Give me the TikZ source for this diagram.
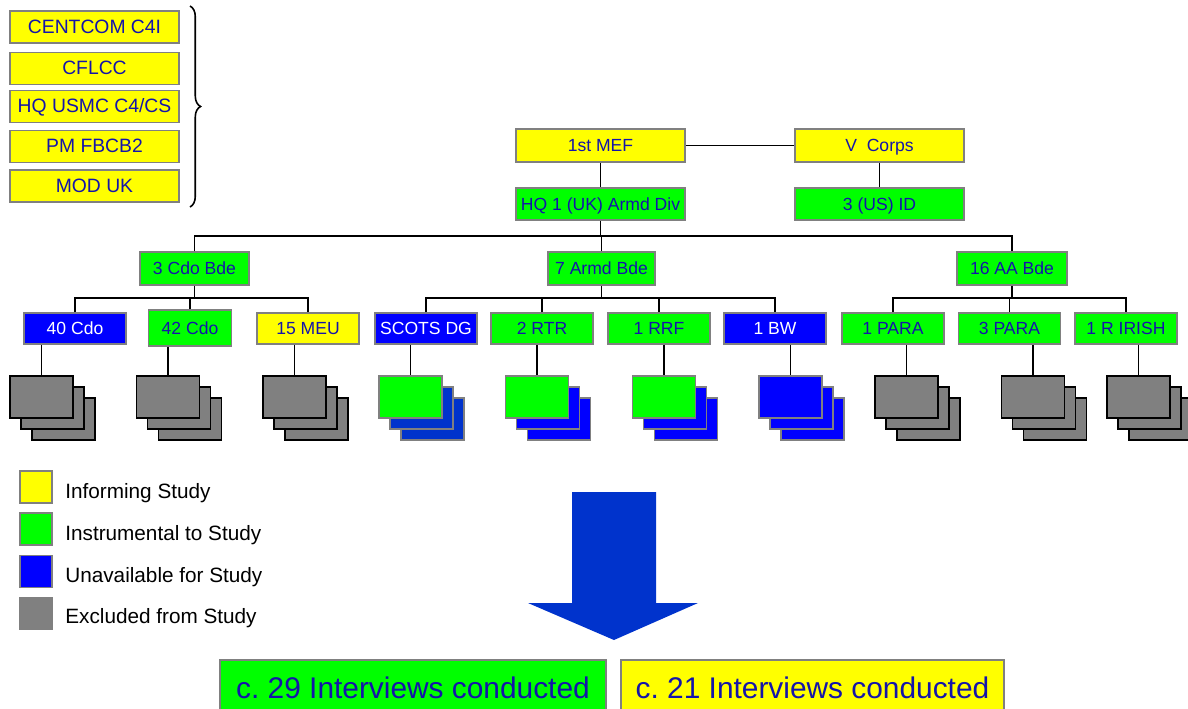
\documentclass[tikz,border=0pt]{standalone}
\usepackage{fontspec}
\setmainfont{Liberation Sans}
\usetikzlibrary{decorations.pathreplacing}
\frenchspacing

\definecolor{boxyellow}{RGB}{255,255,0}
\definecolor{boxgreen}{RGB}{0,255,0}
\definecolor{boxblue}{RGB}{0,0,255}
\definecolor{deepblue}{RGB}{0,51,204}
\definecolor{boxgray}{RGB}{128,128,128}
\definecolor{labelblue}{RGB}{20,20,170}

\tikzset{
    unit/.style={draw=boxgray, line width=0.9pt, minimum width=2.04cm, minimum height=0.62cm,
        inner sep=0pt, text height=1.55ex, text depth=0.2ex, font=\fontsize{10}{12}\selectfont, text=labelblue},
    topbox/.style={unit, fill=boxyellow, minimum width=3.38cm, minimum height=0.64cm,
        font=\fontsize{11}{13}\selectfont},
    stackbox/.style={line width=0.9pt, minimum width=1.26cm, minimum height=0.84cm, inner sep=0pt},
    keybox/.style={draw=boxgray, line width=0.9pt, minimum size=0.64cm, inner sep=0pt},
    keytext/.style={anchor=base west, inner sep=0pt, font=\fontsize{11.8}{14}\selectfont},
    result/.style={draw=boxgray, line width=0.9pt, minimum height=1.12cm, inner sep=0pt,
        font=\fontsize{17}{20}\selectfont, text=labelblue},
    link/.style={line width=0.9pt}
}

\newcommand{\unitstack}[5]{%
    \node[stackbox, fill=#4, draw=#5] (#1c) at (#2+22,419) {};
    \node[stackbox, fill=#4, draw=#5] (#1b) at (#2+11,408) {};
    \node[stackbox, fill=#3, draw=#5] (#1) at (#2,397) {};
}

\begin{document}
\begin{tikzpicture}[x=0.02cm, y=-0.02cm]
    \clip (0,0) rectangle (1188,708);

    \node[topbox] (centcom) at (94.5,27) {CENTCOM C4I};
    \node[topbox] (cflcc) at (94.5,68.5) {CFLCC};
    \node[topbox] (usmc) at (94.5,106.5) {HQ USMC C4/CS};
    \node[topbox] (fbcb) at (94.5,146.5) {PM FBCB2};
    \node[topbox] (moduk) at (94.5,186) {MOD UK};
    \coordinate (bracetop) at (190,6);
    \coordinate (bracebot) at (190,207);
    \draw[decorate, decoration={brace, amplitude=6pt}, line width=0.9pt] (bracetop) -- (bracebot);

    \node[unit, fill=boxyellow, minimum width=3.38cm, minimum height=0.66cm] (mef) at (600.5,145.5) {1st MEF};
    \node[unit, fill=boxyellow, minimum width=3.38cm, minimum height=0.66cm] (vcorps) at (879.5,145.5) {V\ \ Corps};
    \node[unit, fill=boxgreen, minimum width=3.38cm, minimum height=0.64cm] (hqdiv) at (600.5,204) {HQ 1 (UK) Armd Div};
    \node[unit, fill=boxgreen, minimum width=3.38cm, minimum height=0.64cm] (usid) at (879.5,204) {3 (US) ID};
    \draw[link] (mef) -- (vcorps);
    \draw[link] (mef) -- (hqdiv);
    \draw[link] (vcorps) -- (usid);

    \node[unit, fill=boxgreen, minimum width=2.18cm, minimum height=0.66cm] (cdo) at (194.5,268.5) {3 Cdo Bde};
    \node[unit, fill=boxgreen, minimum width=2.14cm, minimum height=0.66cm] (armd) at (601.5,268.5) {7 Armd Bde};
    \node[unit, fill=boxgreen, minimum width=2.2cm, minimum height=0.66cm] (aa) at (1012,268.5) {16 AA Bde};
    \draw[link] (hqdiv.south) -- (hqdiv.south |- 0,236);
    \draw[link] (cdo.north) |- (aa.north |- 0,236) -- (aa.north);
    \draw[link] (armd.north) -- (armd.north |- 0,236);

    \node[unit, fill=boxblue, text=white] (c40) at (75,328.5) {40 Cdo};
    \node[unit, fill=boxgreen, minimum width=1.66cm, minimum height=0.72cm] (c42) at (190,328) {42 Cdo};
    \node[unit, fill=boxyellow] (meu) at (308,328.5) {15 MEU};
    \node[unit, fill=boxblue, text=white] (scots) at (426,328.5) {SCOTS DG};
    \node[unit, fill=boxgreen] (rtr) at (542,328.5) {2 RTR};
    \node[unit, fill=boxgreen] (rrf) at (659,328.5) {1 RRF};
    \node[unit, fill=boxblue, text=white] (bw) at (775,328.5) {1 BW};
    \node[unit, fill=boxgreen] (para1) at (893,328.5) {1 PARA};
    \node[unit, fill=boxgreen] (para3) at (1009.5,328.5) {3 PARA};
    \node[unit, fill=boxgreen] (irish) at (1126,328.5) {1 R IRISH};

    \draw[link] (cdo.south) -- (cdo.south |- 0,298);
    \draw[link] (c40.north) |- (meu.north |- 0,298) -- (meu.north);
    \draw[link] (c42.north) -- (c42.north |- 0,298);
    \draw[link] (armd.south) -- (armd.south |- 0,298);
    \draw[link] (scots.north) |- (bw.north |- 0,298) -- (bw.north);
    \draw[link] (rtr.north) -- (rtr.north |- 0,298);
    \draw[link] (rrf.north) -- (rrf.north |- 0,298);
    \draw[link] (aa.south) -- (aa.south |- 0,298);
    \draw[link] (para1.north) |- (irish.north |- 0,298) -- (irish.north);
    \draw[link] (para3.north) -- (para3.north |- 0,298);

    \unitstack{s40}{41.5}{boxgray}{boxgray}{black}
    \unitstack{s42}{168}{boxgray}{boxgray}{black}
    \unitstack{smeu}{294.5}{boxgray}{boxgray}{black}
    \unitstack{sscots}{410.5}{boxgreen}{deepblue}{boxgray}
    \unitstack{srtr}{537}{boxgreen}{boxblue}{boxgray}
    \unitstack{srrf}{664}{boxgreen}{boxblue}{boxgray}
    \unitstack{sbw}{790.5}{boxblue}{boxblue}{boxgray}
    \unitstack{spara1}{906.5}{boxgray}{boxgray}{black}
    \unitstack{spara3}{1033}{boxgray}{boxgray}{black}
    \unitstack{sirish}{1138.5}{boxgray}{boxgray}{black}

    \draw[link] (s40.north |- c40.south) -- (s40.north);
    \draw[link] (s42.north |- c42.south) -- (s42.north);
    \draw[link] (smeu.north |- meu.south) -- (smeu.north);
    \draw[link] (sscots.north |- scots.south) -- (sscots.north);
    \draw[link] (srtr.north |- rtr.south) -- (srtr.north);
    \draw[link] (srrf.north |- rrf.south) -- (srrf.north);
    \draw[link] (sbw.north |- bw.south) -- (sbw.north);
    \draw[link] (spara1.north |- para1.south) -- (spara1.north);
    \draw[link] (spara3.north |- para3.south) -- (spara3.north);
    \draw[link] (sirish.north |- irish.south) -- (sirish.north);

    \node[keybox, fill=boxyellow] (keyinf) at (36,487) {};
    \node[keybox, fill=boxgreen] (keyins) at (36,529) {};
    \node[keybox, fill=boxblue] (keyuna) at (36,571.5) {};
    \node[keybox, fill=boxgray] (keyexc) at (36,613.5) {};
    \node[keytext] (infotext) at (65,498) {Informing Study};
    \node[keytext] (instext) at (65,540) {Instrumental to Study};
    \node[keytext] (unatext) at (65,582) {Unavailable for Study};
    \node[keytext] (exctext) at (65,623.5) {Excluded from Study};

    \fill[deepblue] (572,492) -- (656,492) -- (656,603) -- (698,603) -- (614,640) -- (528,603) -- (572,603) -- cycle;

    \node[result, fill=boxgreen, minimum width=7.72cm] (interviews) at (413,688) {c. 29 Interviews conducted};
    \node[result, fill=boxyellow, minimum width=7.66cm] (informed) at (812.5,688) {c. 21 Interviews conducted};
\end{tikzpicture}
\end{document}
